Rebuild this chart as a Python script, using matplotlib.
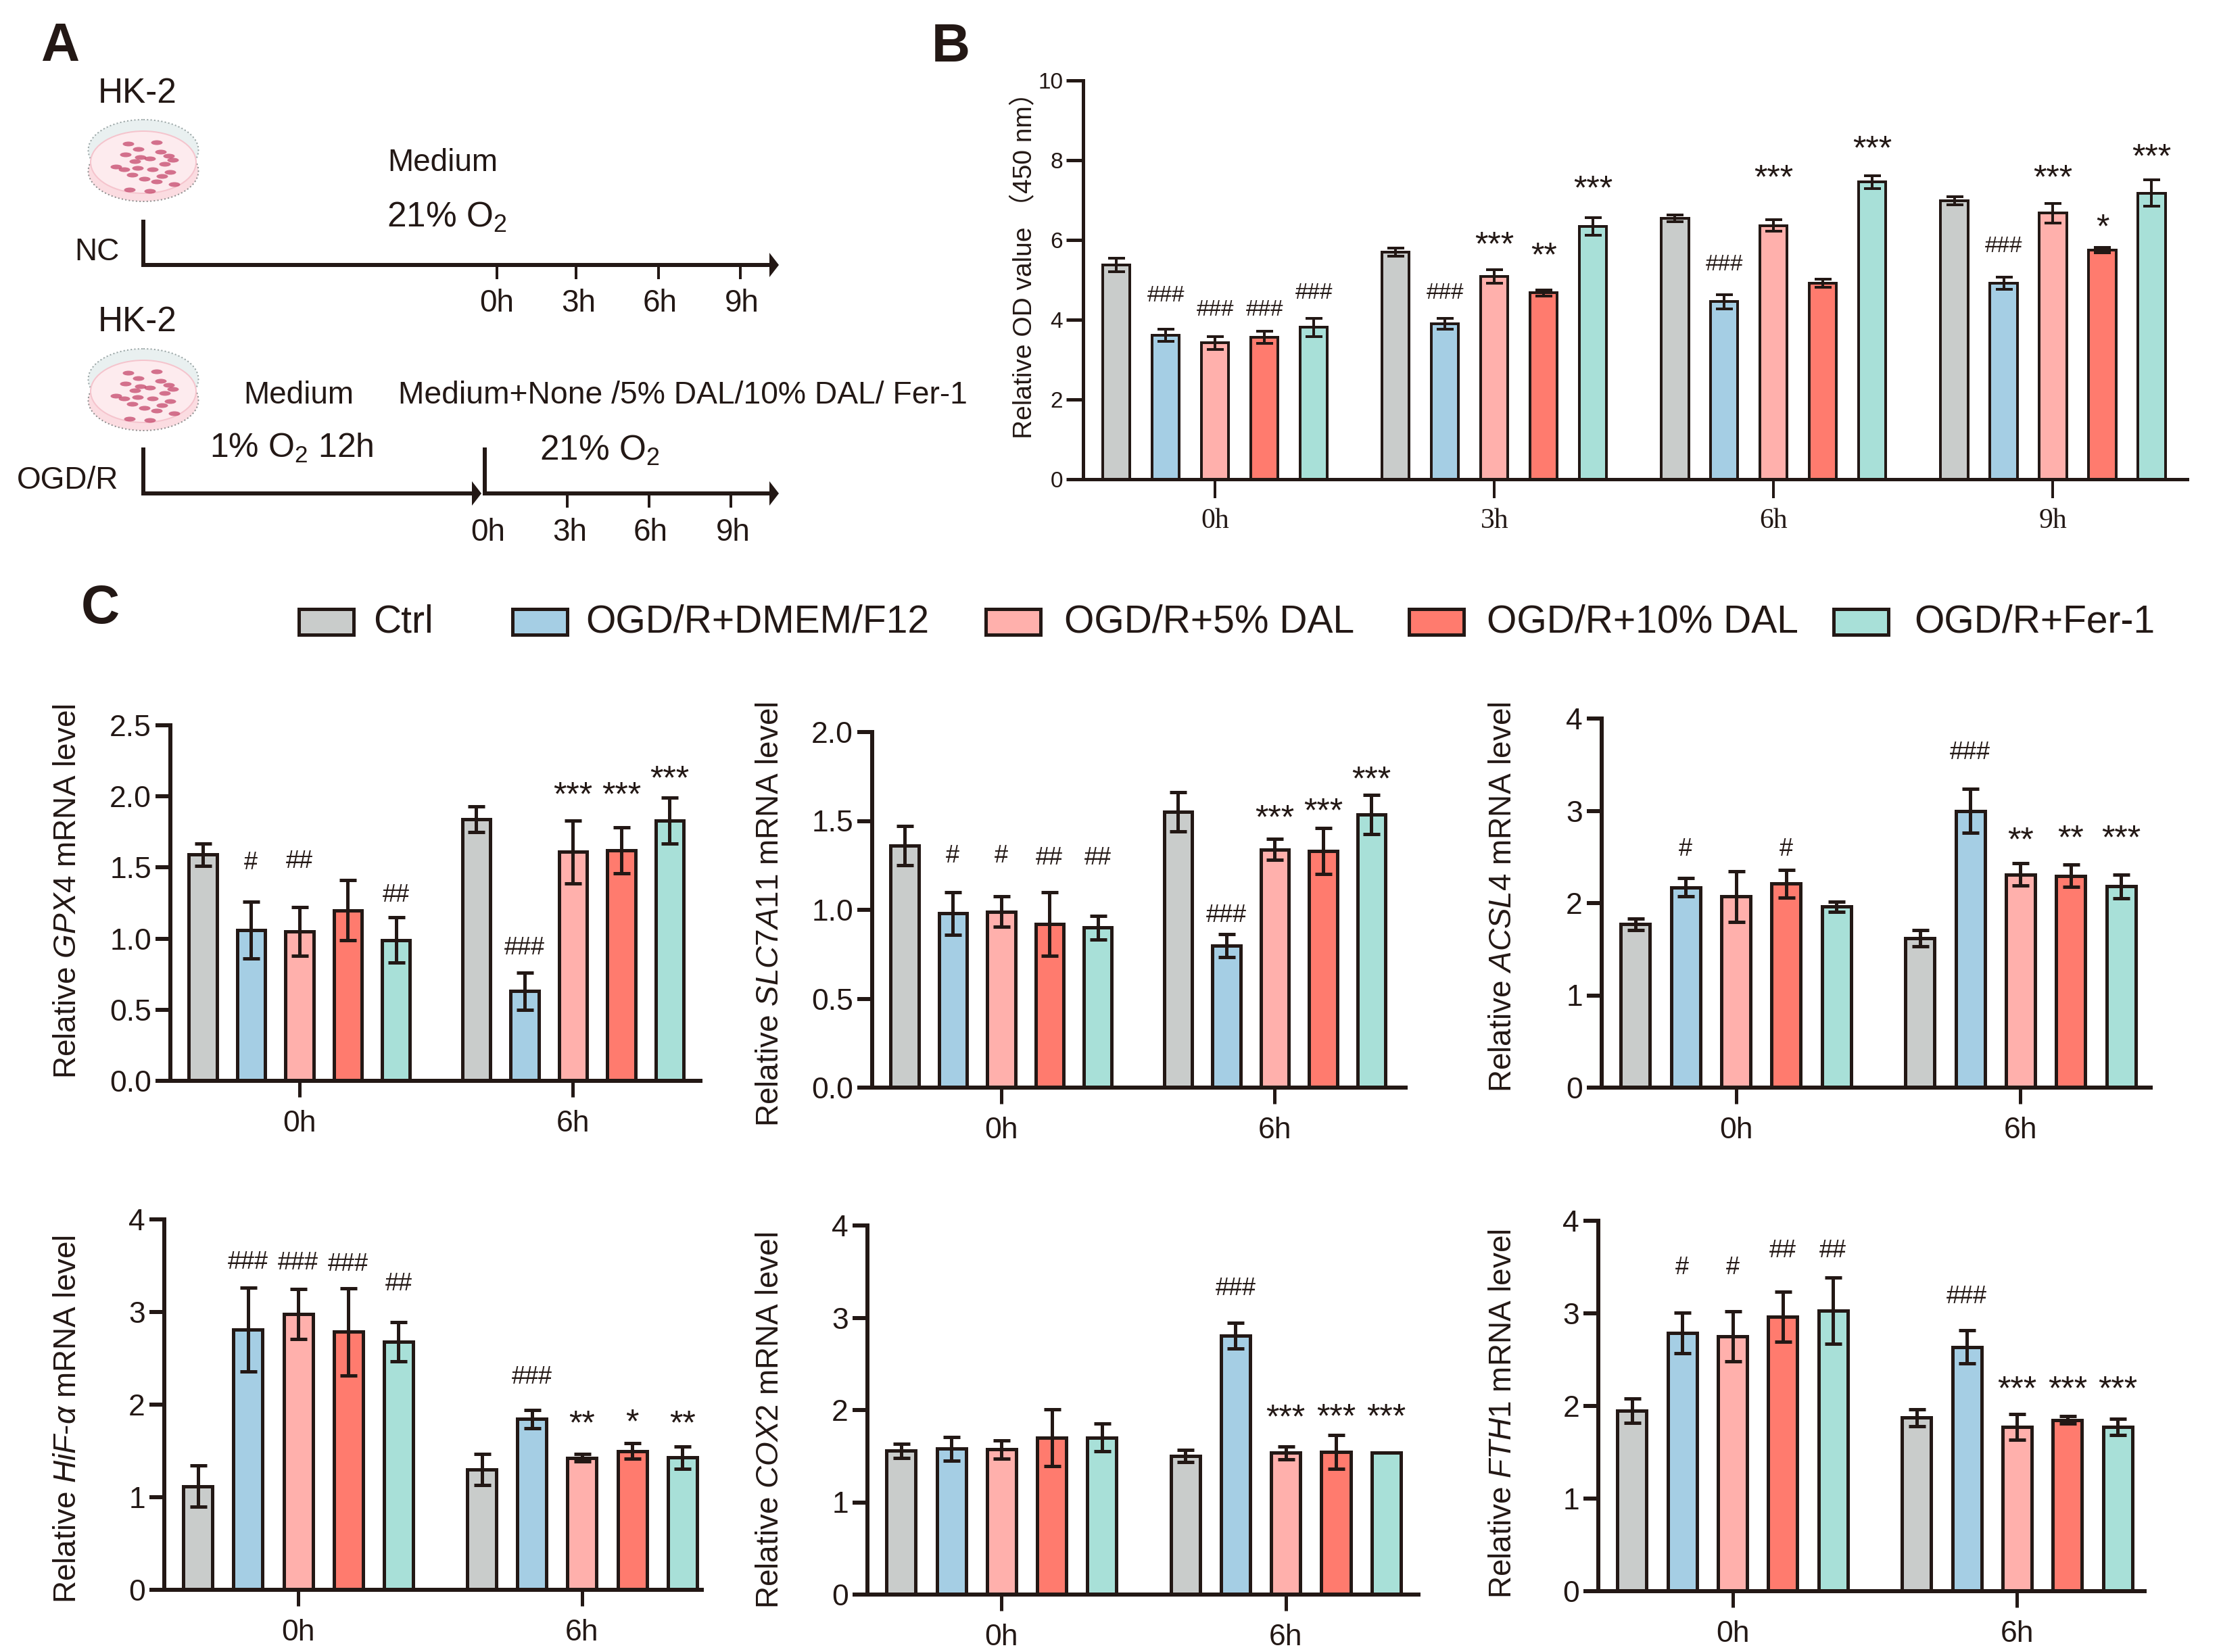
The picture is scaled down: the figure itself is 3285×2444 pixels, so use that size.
import matplotlib
matplotlib.use('Agg')
import matplotlib.pyplot as plt
from matplotlib.patches import Ellipse, Rectangle, Polygon

plt.rcParams['font.family'] = ['Liberation Sans', 'Noto Sans CJK SC', 'DejaVu Sans']
plt.rcParams['mathtext.fontset'] = 'custom'
plt.rcParams['mathtext.rm'] = 'Liberation Sans'
plt.rcParams['mathtext.it'] = 'Liberation Sans:italic'
plt.rcParams['mathtext.default'] = 'regular'

W, H = 3285, 2444
DARK = '#231815'

treatments = ['Ctrl', 'OGD/R+DMEM/F12', 'OGD/R+5% DAL', 'OGD/R+10% DAL', 'OGD/R+Fer-1']
bar_colors = ['#c9cccb', '#a5cee4', '#ffb0ac', '#ff7b6e', '#a8e0d8']

# panel B
od_groups = ['0h', '3h', '6h', '9h']
od_means = [5.37, 3.61, 3.42, 3.56, 3.81,
            5.70, 3.90, 5.08, 4.67, 6.34,
            6.54, 4.45, 6.36, 4.92, 7.45,
            6.98, 4.91, 6.67, 5.75, 7.17]
od_errs = [0.17, 0.15, 0.16, 0.16, 0.23,
           0.10, 0.14, 0.17, 0.08, 0.22,
           0.08, 0.18, 0.14, 0.10, 0.16,
           0.10, 0.15, 0.25, 0.07, 0.33]
od_mark_bars = [1, 2, 3, 4, 6, 7, 8, 9, 11, 12, 14, 16, 17, 18, 19]
od_mark_labels = ['###', '###', '###', '###', '###', '***', '**', '***', '###', '***', '***', '###', '***', '*', '***']
od_mark_y = [4.65, 4.31, 4.31, 4.72, 4.73, 6.04, 5.76, 7.45, 5.44, 7.71, 8.45, 5.89, 7.71, 6.48, 8.23]

# panel C
c_groups = ['0h', '6h']

gpx4_means = [1.59, 1.06, 1.05, 1.20, 0.99, 1.84, 0.63, 1.61, 1.62, 1.83]
gpx4_errs = [0.08, 0.20, 0.17, 0.21, 0.16, 0.09, 0.13, 0.22, 0.16, 0.16]
gpx4_mark_bars = [1, 2, 4, 6, 7, 8, 9]
gpx4_mark_labels = ['#', '##', '##', '###', '***', '***', '***']
gpx4_mark_y = [1.55, 1.56, 1.32, 0.95, 2.06, 2.06, 2.175]

slc_means = [1.36, 0.98, 0.99, 0.92, 0.90, 1.55, 0.80, 1.34, 1.33, 1.535]
slc_errs = [0.11, 0.12, 0.085, 0.18, 0.067, 0.11, 0.065, 0.06, 0.13, 0.11]
slc_mark_bars = [1, 2, 3, 4, 6, 7, 8, 9]
slc_mark_labels = ['#', '#', '##', '##', '###', '***', '***', '***']
slc_mark_y = [1.315, 1.315, 1.306, 1.306, 0.98, 1.557, 1.593, 1.775]

acsl_means = [1.77, 2.17, 2.07, 2.21, 1.96, 1.62, 3.00, 2.31, 2.295, 2.18]
acsl_errs = [0.06, 0.10, 0.275, 0.15, 0.053, 0.09, 0.24, 0.12, 0.12, 0.13]
acsl_mark_bars = [1, 3, 6, 7, 8, 9]
acsl_mark_labels = ['#', '#', '###', '**', '**', '***']
acsl_mark_y = [2.61, 2.61, 3.656, 2.76, 2.78, 2.78]

hif_means = [1.12, 2.81, 2.975, 2.785, 2.68, 1.30, 1.845, 1.425, 1.50, 1.43]
hif_errs = [0.22, 0.45, 0.27, 0.47, 0.21, 0.17, 0.10, 0.04, 0.085, 0.12]
hif_mark_bars = [1, 2, 3, 4, 6, 7, 8, 9]
hif_mark_labels = ['###', '###', '###', '##', '###', '**', '*', '**']
hif_mark_y = [3.565, 3.556, 3.54, 3.33, 2.32, 1.873, 1.888, 1.873]

cox_means = [1.557, 1.58, 1.572, 1.70, 1.70, 1.50, 2.806, 1.535, 1.544, 1.535]
cox_errs = [0.08, 0.13, 0.10, 0.31, 0.15, 0.065, 0.14, 0.07, 0.185, 0.0]
cox_mark_bars = [6, 7, 8, 9]
cox_mark_labels = ['###', '***', '***', '***']
cox_mark_y = [3.343, 1.994, 2.0, 2.0]

fth_means = [1.947, 2.79, 2.75, 2.96, 3.03, 1.873, 2.637, 1.773, 1.848, 1.773]
fth_errs = [0.13, 0.22, 0.27, 0.27, 0.36, 0.09, 0.18, 0.14, 0.04, 0.09]
fth_mark_bars = [1, 2, 3, 4, 6, 7, 8, 9]
fth_mark_labels = ['#', '#', '##', '##', '###', '***', '***', '***']
fth_mark_y = [3.52, 3.52, 3.70, 3.70, 3.205, 2.258, 2.258, 2.258]

GROUP_STEP = 5.66
PT = 72 / 100  # one image pixel in points, figure is saved at dpi 100

fig = plt.figure(figsize=(W / 100, H / 100), dpi=100)

# overlay in image pixels for the schematic, panel letters, legend and y labels
over = fig.add_axes([0, 0, 1, 1], zorder=5)
over.set_xlim(0, W)
over.set_ylim(H, 0)
over.axis('off')


def px_axes(left, right, top, bottom):
    return fig.add_axes([left / W, 1 - bottom / H, (right - left) / W, (bottom - top) / H])


def draw_marks(ax, positions, bars, labels, ys, hash_size, star_size, star_lift=0):
    for b, lab, y in zip(bars, labels, ys):
        if lab[0] == '*':
            off = -0.34 * star_size + star_lift
            size = star_size
        else:
            off = -0.10 * hash_size
            size = hash_size
        ax.annotate(lab, (positions[b], y), xytext=(0, off), textcoords='offset points',
                    ha='center', va='center', fontsize=size, color=DARK)


def draw_bars(ax, means, errs, groups, width, edge_px, tick_px, label_size, pad_px, group_font=None):
    n = len(groups)
    pos = [g * GROUP_STEP + i for g in range(n) for i in range(5)]
    cols = bar_colors * n
    ax.bar(pos, means, width=width, color=cols, edgecolor=DARK, linewidth=edge_px * PT, zorder=2)
    ax.errorbar(pos, means, yerr=errs, fmt='none', ecolor=DARK, elinewidth=edge_px * PT,
                capsize=12.5 * PT, capthick=edge_px * PT, zorder=3)
    ax.set_xticks([g * GROUP_STEP + 2 for g in range(n)])
    ax.set_xticklabels(groups, fontsize=label_size, color=DARK, fontfamily=group_font)
    ax.tick_params(axis='x', length=tick_px * PT, width=edge_px * PT, color=DARK, pad=pad_px * PT)
    for side in ['top', 'right']:
        ax.spines[side].set_visible(False)
    for side in ['left', 'bottom']:
        ax.spines[side].set_linewidth((edge_px + 1) * PT)
        ax.spines[side].set_color(DARK)
        ax.spines[side].set_zorder(4)
    return pos


def c_panel(rect, means, errs, bars, labels, ys, yticks, ylim, ticklabels, ylabel, label_x, label_y, x_end=10.37):
    ax = px_axes(*rect)
    pos = draw_bars(ax, means, errs, c_groups, 0.58, 5, 24, 32, 19)
    ax.set_xlim(-0.67, 10.37)
    ax.spines['bottom'].set_bounds(-0.67, x_end)
    ax.set_ylim(*ylim)
    ax.set_yticks(yticks)
    ax.set_yticklabels(ticklabels, fontsize=32, color=DARK)
    ax.tick_params(axis='y', length=22 * PT, width=6 * PT, color=DARK, pad=6 * PT)
    draw_marks(ax, pos, bars, labels, ys, 26, 36, star_lift=3)
    over.text(label_x, label_y, ylabel, rotation=90, ha='center', va='center', fontsize=33, color=DARK)


# panel B
ax_b = px_axes(1602, 3235, 119, 709)
pos_b = draw_bars(ax_b, od_means, od_errs, od_groups, 0.55, 4, 28, 30, 15, group_font='Liberation Serif')
ax_b.set_xlim(-0.675, 21.7)
ax_b.set_ylim(0, 10)
ax_b.set_yticks([0, 2, 4, 6, 8, 10])
ax_b.set_yticklabels(['0', '2', '4', '6', '8', '10'], fontsize=24, color=DARK)
ax_b.tick_params(axis='y', length=25 * PT, width=5 * PT, color=DARK, pad=5 * PT)
draw_marks(ax_b, pos_b, od_mark_bars, od_mark_labels, od_mark_y, 24, 36, star_lift=4)
over.text(1516, 383, 'Relative OD value （450 nm）', rotation=90, ha='center', va='center',
          fontsize=28, color=DARK)

# panel C
gpx4_ticks = [0, 0.5, 1.0, 1.5, 2.0, 2.5]
gpx4_ticklabels = ['0.0', '0.5', '1.0', '1.5', '2.0', '2.5']
slc_ticks = [0, 0.5, 1.0, 1.5, 2.0]
slc_ticklabels = ['0.0', '0.5', '1.0', '1.5', '2.0']
int_ticks = [0, 1, 2, 3, 4]
int_ticklabels = ['0', '1', '2', '3', '4']

c_panel((252, 1041, 1073, 1599), gpx4_means, gpx4_errs, gpx4_mark_bars, gpx4_mark_labels, gpx4_mark_y,
        gpx4_ticks, (0, 2.5), gpx4_ticklabels, r'Relative $\mathit{GPX4}$ mRNA level', 100, 1319, x_end=10.3)
c_panel((1290, 2079, 1083, 1609), slc_means, slc_errs, slc_mark_bars, slc_mark_labels, slc_mark_y,
        slc_ticks, (0, 2.0), slc_ticklabels, r'Relative $\mathit{SLC7A11}$ mRNA level', 1139, 1353)
c_panel((2369, 3190, 1063, 1609), acsl_means, acsl_errs, acsl_mark_bars, acsl_mark_labels, acsl_mark_y,
        int_ticks, (0, 4), int_ticklabels, r'Relative $\mathit{ACSL4}$ mRNA level', 2223, 1327, x_end=10.25)
c_panel((243, 1062, 1804, 2352), hif_means, hif_errs, hif_mark_bars, hif_mark_labels, hif_mark_y,
        int_ticks, (0, 4), int_ticklabels, r'Relative $\mathit{HiF}$-$\mathit{\alpha}$ mRNA level', 100, 2099, x_end=10.05)
c_panel((1283, 2103, 1813, 2359), cox_means, cox_errs, cox_mark_bars, cox_mark_labels, cox_mark_y,
        int_ticks, (0, 4), int_ticklabels, r'Relative $\mathit{COX2}$ mRNA level', 1139, 2101, x_end=10.3)
c_panel((2364, 3185, 1806, 2354), fth_means, fth_errs, fth_mark_bars, fth_mark_labels, fth_mark_y,
        int_ticks, (0, 4), int_ticklabels, r'Relative $\mathit{FTH1}$ mRNA level', 2223, 2091, x_end=10.2)

# legend
legend_patch_x = [442, 758, 1458, 2084, 2712]
legend_text_x = [552, 866, 1574, 2199, 2831]
for px, tx, name, col in zip(legend_patch_x, legend_text_x, treatments, bar_colors):
    over.add_patch(Rectangle((px, 901), 81, 38, facecolor=col, edgecolor=DARK, linewidth=5 * PT))
    over.text(tx, 920, name, ha='left', va='center', fontsize=41, color=DARK)

# panel letters
for letter, x, y in [('A', 60, 90), ('B', 1378, 91), ('C', 120, 922)]:
    over.text(x, y, letter, fontsize=57, fontweight='bold', color=DARK, ha='left', va='baseline')


# panel A schematic
def draw_dish(cy):
    over.add_patch(Ellipse((212, cy - 15), 163, 90, facecolor='#e9f0f0', edgecolor='#9aa5a5',
                           linewidth=2 * PT, linestyle=':'))
    over.add_patch(Ellipse((212, cy + 16), 163, 90, facecolor='#fbdce1', edgecolor='#8f8f8f',
                           linewidth=2 * PT, linestyle=':'))
    over.add_patch(Ellipse((212, cy + 3), 156, 92, facecolor='#fdebee', edgecolor='#f5c4cd',
                           linewidth=2 * PT))
    cells = [(190, -24), (232, -26), (186, -8), (205, -16), (238, -12), (222, -2), (200, 2), (256, 0),
             (244, 6), (172, 10), (184, 14), (204, 12), (226, 14), (252, 18), (196, 22), (214, 28),
             (240, 24), (192, 44), (258, 36), (222, 46), (250, -6), (208, -4), (232, 32)]
    for x, dy in cells:
        over.add_patch(Ellipse((x, cy + dy), 17, 7, facecolor='#c5476b', edgecolor='none', alpha=0.75))


def arrow_line(x0, x1, y):
    over.plot([x0, x1 - 12], [y, y], color=DARK, lw=6 * PT, solid_capstyle='butt')
    over.add_patch(Polygon([(x1 - 14, y - 18), (x1, y), (x1 - 14, y + 18)], closed=True, color=DARK, lw=0))


def vline(x, y0, y1, lw=6):
    over.plot([x, x], [y0, y1], color=DARK, lw=lw * PT, solid_capstyle='butt')


def txt(x, y, s, size, ha='center'):
    over.text(x, y, s, fontsize=size, ha=ha, va='center', color=DARK)


txt(203, 139, 'HK-2', 37)
draw_dish(237)
txt(655, 241, 'Medium', 33)
txt(572, 322, '21% O$_{2}$', 37, ha='left')
txt(143, 373, 'NC', 33)
vline(212, 325, 395)
arrow_line(212, 1152, 392)
for x, lab_x, lab in zip([735, 852, 974, 1095], [735, 856, 976, 1097], ['0h', '3h', '6h', '9h']):
    vline(x, 392, 413, lw=4)
    txt(lab_x, 449, lab, 33)

txt(203, 476, 'HK-2', 37)
draw_dish(576)
txt(442, 585, 'Medium', 33)
txt(589, 585, 'Medium+None /5% DAL/10% DAL/ Fer-1', 33.3, ha='left')
txt(310, 663, '1% O$_{2}$ 12h', 36, ha='left')
txt(798, 667, '21% O$_{2}$', 37, ha='left')
txt(100, 711, 'OGD/R', 33)
vline(212, 662, 733)
arrow_line(212, 712, 730)
vline(717, 662, 733)
arrow_line(717, 1152, 730)
for x, lab in zip([839, 960, 1081], ['3h', '6h', '9h']):
    vline(x, 730, 751, lw=4)
for lab_x, lab in zip([722, 843, 962, 1084], ['0h', '3h', '6h', '9h']):
    txt(lab_x, 788, lab, 33)

over.set_xlim(0, W)
over.set_ylim(H, 0)

fig.savefig('out.png', dpi=100)
